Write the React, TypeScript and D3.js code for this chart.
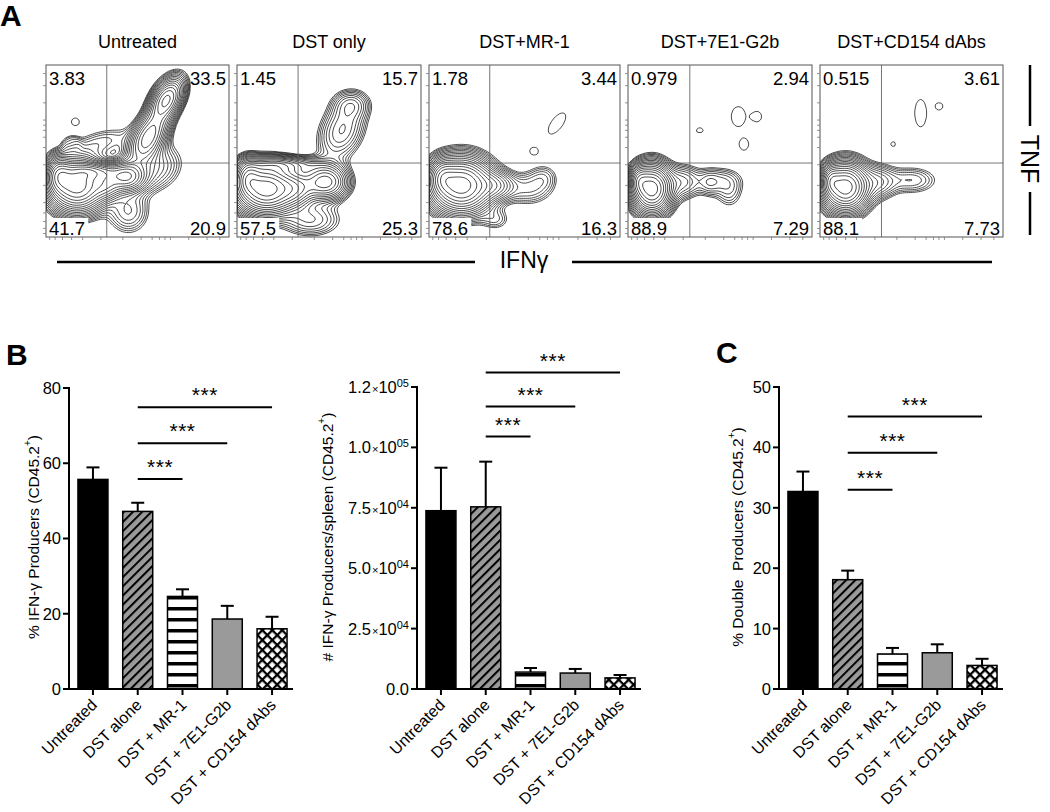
import React from 'react';
import * as d3 from 'd3';

const FONT = '"Liberation Sans", Arial, Helvetica, sans-serif';

// ---------- Panel A data ----------
const flowTitles = ['Untreated', 'DST only', 'DST+MR-1', 'DST+7E1-G2b', 'DST+CD154 dAbs'];
const flowTL = ['3.83', '1.45', '1.78', '0.979', '0.515'];
const flowTR = ['33.5', '15.7', '3.44', '2.94', '3.61'];
const flowBL = ['41.7', '57.5', '78.6', '88.9', '88.1'];
const flowBR = ['20.9', '25.3', '16.3', '7.29', '7.73'];
const flowGateX = [0.332, 0.332, 0.318, 0.336, 0.336];
const flowGateY = 0.43;

// density blobs: [cx, cy (from bottom), sx, sy, weight, angle, sharpness]
const blobsUntreated = [
  [0.17, 0.30, 0.085, 0.085, 1.0, 0, 1],
  [0.07, 0.36, 0.04, 0.06, 0.5, 0, 1],
  [0.27, 0.38, 0.08, 0.03, 0.35, 0, 1],
  [0.44, 0.35, 0.06, 0.05, 0.55, 0, 1],
  [0.33, 0.30, 0.05, 0.05, 0.3, 0, 1],
  [0.56, 0.58, 0.10, 0.05, 0.45, 1.1, 1],
  [0.66, 0.80, 0.08, 0.045, 0.5, 1.1, 1],
  [0.58, 0.40, 0.10, 0.08, 0.12, 0.5, 1],
  [0.45, 0.15, 0.07, 0.08, 0.1, 0, 1],
  [0.30, 0.55, 0.12, 0.05, 0.06, 0.3, 1],
  [0.14, 0.54, 0.04, 0.04, 0.035, 0, 2],
  [0.16, 0.67, 0.025, 0.025, 0.035, 0, 2],
];
const blobsDstOnly = [
  [0.16, 0.28, 0.09, 0.08, 1.0, 0, 1],
  [0.06, 0.35, 0.04, 0.06, 0.4, 0, 1],
  [0.25, 0.42, 0.12, 0.03, 0.2, 0, 1],
  [0.48, 0.32, 0.07, 0.06, 0.45, 0, 1],
  [0.32, 0.28, 0.06, 0.06, 0.3, 0, 1],
  [0.57, 0.62, 0.11, 0.07, 0.15, 1.2, 1],
  [0.62, 0.77, 0.06, 0.05, 0.1, 0, 1],
  [0.40, 0.10, 0.10, 0.06, 0.1, 0, 1],
];
const blobsMR1 = [
  [0.17, 0.30, 0.09, 0.09, 1.0, 0, 1],
  [0.07, 0.35, 0.04, 0.06, 0.3, 0, 1],
  [0.35, 0.30, 0.06, 0.05, 0.2, 0, 1],
  [0.52, 0.28, 0.08, 0.06, 0.08, 0, 1],
  [0.60, 0.35, 0.05, 0.05, 0.05, 0, 1],
  [0.67, 0.66, 0.08, 0.035, 0.035, 1.0, 2],
  [0.55, 0.50, 0.026, 0.026, 0.035, 0, 2],
  [0.35, 0.10, 0.05, 0.04, 0.05, 0, 1],
];
const blobs7E1 = [
  [0.13, 0.28, 0.06, 0.08, 1.0, 0, 1],
  [0.06, 0.33, 0.03, 0.05, 0.3, 0, 1],
  [0.30, 0.32, 0.06, 0.06, 0.12, 0, 1],
  [0.50, 0.33, 0.08, 0.05, 0.07, 0, 1],
  [0.55, 0.25, 0.05, 0.06, 0.05, 0, 1],
  [0.60, 0.70, 0.044, 0.066, 0.035, 0, 2],
  [0.70, 0.70, 0.03, 0.035, 0.035, 0, 2],
  [0.63, 0.54, 0.03, 0.04, 0.035, 0, 2],
  [0.39, 0.62, 0.022, 0.017, 0.035, 0, 2],
  [0.44, 0.31, 0.035, 0.05, 0.045, 0, 1],
];
const blobsCD154 = [
  [0.14, 0.29, 0.07, 0.08, 1.0, 0, 1],
  [0.06, 0.33, 0.03, 0.05, 0.3, 0, 1],
  [0.32, 0.32, 0.06, 0.06, 0.13, 0, 1],
  [0.50, 0.33, 0.09, 0.05, 0.08, 0, 1],
  [0.55, 0.72, 0.037, 0.09, 0.035, 0, 2],
  [0.65, 0.76, 0.025, 0.025, 0.035, 0, 2],
  [0.40, 0.54, 0.016, 0.016, 0.035, 0, 2],
];
const flowBlobs = [blobsUntreated, blobsDstOnly, blobsMR1, blobs7E1, blobsCD154];
const flowLevels = d3.range(0, 20).map((k) => 0.03 * Math.pow(1.22, k));
const flowAxisTicks = [0.02, 0.05, 0.09, 0.14, 0.2, 0.3, 0.42, 0.52, 0.58, 0.62, 0.65, 0.68, 0.78, 0.88, 0.95];

// ---------- Panel B / C data ----------
const categories = ['Untreated', 'DST alone', 'DST + MR-1', 'DST + 7E1-G2b', 'DST + CD154 dAbs'];
const ifngPct = [55.7, 47.2, 24.6, 18.6, 16.0];
const ifngPctSem = [3.2, 2.3, 1.9, 3.5, 3.2];
const ifngPctSig = [[1, 2, 55.8], [1, 3, 65.3], [1, 4, 74.9]];
const ifngPctTicks = [0, 20, 40, 60, 80];

const ifngCount = [73800, 75400, 7000, 6600, 4600];
const ifngCountSem = [17800, 18700, 1700, 1700, 1200];
const ifngCountSig = [[1, 2, 104500], [1, 3, 116900], [1, 4, 131000]];
const ifngCountTicks = [0, 25000, 50000, 75000, 100000, 125000];
const ifngCountTickMant = ['0.0', '2.5', '5.0', '7.5', '1.0', '1.2'];
const ifngCountTickExp = ['', '04', '04', '04', '05', '05'];

const doublePct = [32.7, 18.1, 5.8, 6.0, 3.9];
const doublePctSem = [3.3, 1.5, 1.0, 1.4, 1.1];
const doublePctSig = [[1, 2, 33.0], [1, 3, 39.1], [1, 4, 45.1]];
const doublePctTicks = [0, 10, 20, 30, 40, 50];

const barFills = ['#000', 'url(#diag)', 'url(#hstripe)', '#9a9a9a', 'url(#xhatch)'];

const BASE_Y = 689;

function FlowPlot({ i, x0, w }: { i: number; x0: number; w: number }) {
  const y0 = 65;
  const h = 172;
  const gw = Math.round(w / 2);
  const gh = Math.round(h / 2);
  const blobs = flowBlobs[i];
  const vals: number[] = new Array(gw * gh);
  for (let j = 0; j < gh; j++) {
    for (let k = 0; k < gw; k++) {
      const fx = (k + 0.5) / gw;
      const fy = 1 - (j + 0.5) / gh;
      let s = 0;
      for (const b of blobs) {
        const [cx, cy, sx, sy, wt, a, p] = b;
        const dx = fx - cx;
        const dy = fy - cy;
        const u = dx * Math.cos(a) + dy * Math.sin(a);
        const v = -dx * Math.sin(a) + dy * Math.cos(a);
        const q = (u * u) / (2 * sx * sx) + (v * v) / (2 * sy * sy);
        s += wt * Math.exp(-Math.pow(q, p));
      }
      vals[j * gw + k] = s;
    }
  }
  const contours = d3.contours().size([gw, gh]).thresholds(flowLevels)(vals);
  const path = d3.geoPath();
  const gx = x0 + flowGateX[i] * w;
  const gy = y0 + (1 - flowGateY) * h;
  const fs = 18.5;
  const numW = (t: string) => t.length * fs * 0.53 + 2;
  const clipId = `clip${i}`;
  return (
    <g>
      <text x={x0 + w / 2} y={48} textAnchor="middle" fontSize={18} fontFamily={FONT}>
        {flowTitles[i]}
      </text>
      <clipPath id={clipId}>
        <rect x={x0} y={y0} width={w} height={h} />
      </clipPath>
      <g clipPath={`url(#${clipId})`}>
        <g transform={`translate(${x0},${y0}) scale(${w / gw},${h / gh})`}>
          {contours.map((c, k) => (
            <path key={k} d={path(c as any) || ''} fill="none" stroke="#111" strokeWidth={0.75} vectorEffect="non-scaling-stroke" />
          ))}
        </g>
      </g>
      <line x1={gx} x2={gx} y1={y0} y2={y0 + h} stroke="#666" strokeWidth={0.9} />
      <line x1={x0} x2={x0 + w} y1={gy} y2={gy} stroke="#666" strokeWidth={0.9} />
      <rect x={x0} y={y0} width={w} height={h} fill="none" stroke="#555" strokeWidth={1} />
      {flowAxisTicks.map((t, k) => (
        <g key={k}>
          <line x1={x0 - 3} x2={x0} y1={y0 + h - t * h} y2={y0 + h - t * h} stroke="#777" strokeWidth={0.8} />
          <line x1={x0 + t * w} x2={x0 + t * w} y1={y0 + h} y2={y0 + h + 3} stroke="#777" strokeWidth={0.8} />
        </g>
      ))}
      <rect x={x0 + 1} y={y0 + h - 19} width={numW(flowBL[i])} height={18} fill="#fff" />
      <rect x={x0 + w - 1 - numW(flowBR[i])} y={y0 + h - 19} width={numW(flowBR[i])} height={18} fill="#fff" />
      <text x={x0 + 3} y={y0 + 20} fontSize={fs} fontFamily={FONT}>{flowTL[i]}</text>
      <text x={x0 + w - 3} y={y0 + 20} fontSize={fs} fontFamily={FONT} textAnchor="end">{flowTR[i]}</text>
      <text x={x0 + 3} y={y0 + h - 2} fontSize={fs} fontFamily={FONT}>{flowBL[i]}</text>
      <text x={x0 + w - 3} y={y0 + h - 2} fontSize={fs} fontFamily={FONT} textAnchor="end">{flowBR[i]}</text>
    </g>
  );
}

type SigT = number[][];

function BarPanel(props: {
  x0: number;
  yTop: number;
  dmax: number;
  values: number[];
  sems: number[];
  sig: SigT;
  ticks: number[];
  tickLabel: (i: number) => React.ReactNode;
  ylabel: React.ReactNode;
  ylabelX: number;
}) {
  const { x0, yTop, dmax, values, sems, sig, ticks, tickLabel, ylabel, ylabelX } = props;
  const y = d3.scaleLinear().domain([0, dmax]).range([BASE_Y, yTop]);
  const x = d3.scaleBand<string>().domain(categories).range([x0, x0 + 227]).paddingInner(0.33).paddingOuter(0.2);
  const bw = x.bandwidth();
  const cx = (i: number) => (x(categories[i]) as number) + bw / 2;
  return (
    <g fontFamily={FONT}>
      {values.map((v, i) => (
        <rect key={i} x={x(categories[i])} y={y(v)} width={bw} height={BASE_Y - y(v)} fill={barFills[i]} stroke="#000" strokeWidth={1.5} />
      ))}
      {values.map((v, i) => (
        <g key={i} stroke="#000" strokeWidth={2}>
          <line x1={cx(i)} x2={cx(i)} y1={y(v)} y2={y(v + sems[i])} />
          <line x1={cx(i) - 6.5} x2={cx(i) + 6.5} y1={y(v + sems[i])} y2={y(v + sems[i])} />
        </g>
      ))}
      <line x1={x0} x2={x0} y1={yTop - 1} y2={BASE_Y + 1} stroke="#000" strokeWidth={2} />
      <line x1={x0 - 4} x2={x0 + 224} y1={BASE_Y} y2={BASE_Y} stroke="#000" strokeWidth={2} />
      {ticks.map((t, i) => (
        <g key={i}>
          <line x1={x0 - 6} x2={x0} y1={y(t)} y2={y(t)} stroke="#000" strokeWidth={2} />
          <text x={x0 - 8} y={y(t)} dy="0.36em" textAnchor="end" fontSize={16.5}>
            {tickLabel(i)}
          </text>
        </g>
      ))}
      {categories.map((c, i) => (
        <g key={c}>
          <line x1={cx(i)} x2={cx(i)} y1={BASE_Y} y2={BASE_Y + 6} stroke="#000" strokeWidth={2} />
          <text
            x={cx(i) + 5}
            y={BASE_Y + 17}
            textAnchor="end"
            fontSize={16}
            transform={`rotate(-45, ${cx(i) + 5}, ${BASE_Y + 17})`}
          >
            {c}
          </text>
        </g>
      ))}
      {sig.map(([a, b, v], k) => (
        <g key={k}>
          <line x1={cx(a)} x2={cx(b)} y1={y(v)} y2={y(v)} stroke="#000" strokeWidth={2} />
          <text x={(cx(a) + cx(b)) / 2} y={y(v) - 5} textAnchor="middle" fontSize={21} letterSpacing={0.5}>
            ***
          </text>
        </g>
      ))}
      <text
        x={ylabelX}
        y={537}
        textAnchor="middle"
        dominantBaseline="central"
        fontSize={15.5}
        transform={`rotate(-90, ${ylabelX}, 537)`}
      >
        {ylabel}
      </text>
    </g>
  );
}

const sup = (
  <>
    <tspan dy={-6} fontSize={10}>+</tspan>
    <tspan dy={6}>)</tspan>
  </>
);

export default function App() {
  const flowLeft = [46, 237, 429, 628, 820];
  const flowW = [183, 184, 191, 184, 183];
  return (
    <div style={{ position: 'absolute', left: 0, top: 0 }}>
      <svg width={1050} height={812} style={{ display: 'block', background: '#fff' }}>
        <defs>
          <pattern id="diag" patternUnits="userSpaceOnUse" width={6.5} height={6.5} patternTransform="rotate(45)">
            <rect width={6.5} height={6.5} fill="#9a9a9a" />
            <rect x={0} y={0} width={2} height={6.5} fill="#000" />
          </pattern>
          <pattern id="hstripe" patternUnits="userSpaceOnUse" width={10} height={11}>
            <rect width={10} height={11} fill="#fff" />
            <rect x={0} y={2} width={10} height={3.5} fill="#000" />
          </pattern>
          <pattern id="xhatch" patternUnits="userSpaceOnUse" width={7} height={7} patternTransform="rotate(45)">
            <rect width={7} height={7} fill="#fff" />
            <rect x={0} y={0} width={2.3} height={7} fill="#000" />
            <rect x={0} y={0} width={7} height={2.3} fill="#000" />
          </pattern>
        </defs>

        <text x={0} y={26} fontSize={30} fontWeight="bold" fontFamily={FONT}>A</text>
        {flowTitles.map((_, i) => (
          <FlowPlot key={i} i={i} x0={flowLeft[i]} w={flowW[i]} />
        ))}
        <line x1={57} x2={475} y1={262} y2={262} stroke="#000" strokeWidth={2.5} />
        <line x1={572} x2={992} y1={262} y2={262} stroke="#000" strokeWidth={2.5} />
        <text x={524} y={268} textAnchor="middle" fontSize={23} fontFamily={FONT}>IFNγ</text>
        <line x1={1030} x2={1030} y1={65} y2={126} stroke="#000" strokeWidth={2.5} />
        <line x1={1030} x2={1030} y1={192} y2={235} stroke="#000" strokeWidth={2.5} />
        <text
          x={1030}
          y={159}
          textAnchor="middle"
          dominantBaseline="central"
          fontSize={25}
          fontFamily={FONT}
          transform="rotate(90, 1030, 159)"
        >
          TNF
        </text>

        <text x={6} y={365} fontSize={30} fontWeight="bold" fontFamily={FONT}>B</text>
        <BarPanel
          x0={69}
          yTop={388}
          dmax={80}
          values={ifngPct}
          sems={ifngPctSem}
          sig={ifngPctSig}
          ticks={ifngPctTicks}
          tickLabel={(i) => String(ifngPctTicks[i])}
          ylabel={<>% IFN-γ Producers (CD45.2{sup}</>}
          ylabelX={33}
        />
        <BarPanel
          x0={417}
          yTop={387}
          dmax={125000}
          values={ifngCount}
          sems={ifngCountSem}
          sig={ifngCountSig}
          ticks={ifngCountTicks}
          tickLabel={(i) =>
            ifngCountTickExp[i] ? (
              <>
                {ifngCountTickMant[i]}
                <tspan fontSize={11} dx={1}>×</tspan>
                <tspan>10</tspan>
                <tspan fontSize={11} dy={-6}>{ifngCountTickExp[i]}</tspan>
              </>
            ) : (
              ifngCountTickMant[i]
            )
          }
          ylabel={<># IFN-γ Producers/spleen (CD45.2{sup}</>}
          ylabelX={327}
        />

        <text x={716} y={363} fontSize={30} fontWeight="bold" fontFamily={FONT}>C</text>
        <BarPanel
          x0={779}
          yTop={387}
          dmax={50}
          values={doublePct}
          sems={doublePctSem}
          sig={doublePctSig}
          ticks={doublePctTicks}
          tickLabel={(i) => String(doublePctTicks[i])}
          ylabel={<>% Double{'\u00a0\u00a0'}Producers (CD45.2{sup}</>}
          ylabelX={737}
        />
      </svg>
    </div>
  );
}
